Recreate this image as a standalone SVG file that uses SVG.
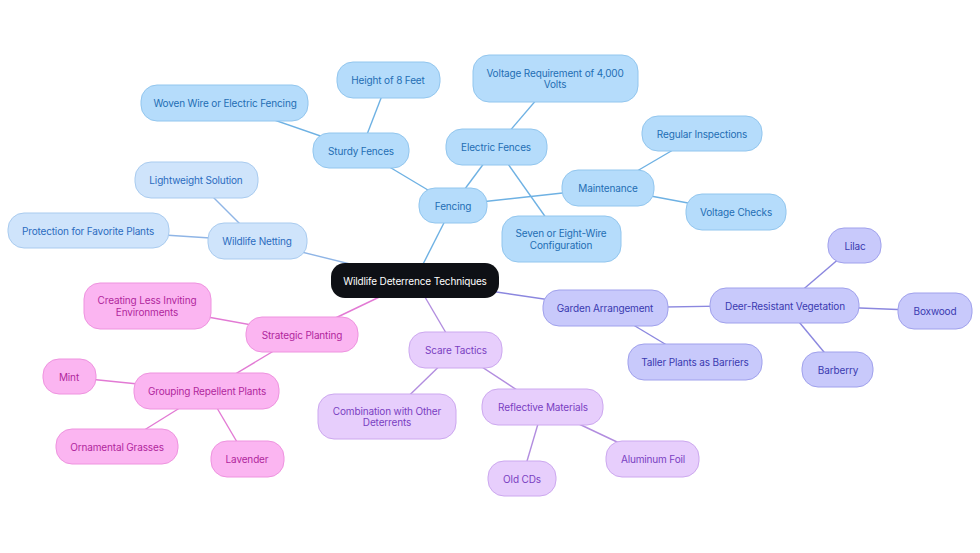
<svg xmlns="http://www.w3.org/2000/svg" width="980" height="553" viewBox="0 0 980 553">
<style>
text{font-family:Inter,"Noto Sans","Liberation Sans",sans-serif;font-size:10px;letter-spacing:-0.15px;text-anchor:middle;dominant-baseline:central}
.e line{stroke-width:1.4;fill:none}
.fb rect{fill:#b5dcfb;stroke:#92c6ee;stroke-width:1}
.fb text{fill:#1f6eb4}
.nb rect{fill:#cfe4fb;stroke:#a9cbef;stroke-width:1}
.nb text{fill:#2b6cc0}
.gb rect{fill:#c8c9fb;stroke:#a0a1ec;stroke-width:1}
.gb text{fill:#3a3ab0}
.pb rect{fill:#fbb5f1;stroke:#ee93df;stroke-width:1}
.pb text{fill:#b1279d}
.sb rect{fill:#e7cefc;stroke:#cca8ef;stroke-width:1}
.sb text{fill:#7a3fc2}
.lf{stroke:#6eb1e3}.ln{stroke:#8fb5e6}.lg{stroke:#8b87df}.lp{stroke:#e27ad4}.ls{stroke:#b28ddf}
</style>
<rect width="980" height="553" fill="#ffffff"/>
<g id="connectors" class="e">
<line class="lf" x1="415" y1="280" x2="453" y2="205"/>
<line class="lf" x1="453" y1="205" x2="361" y2="150"/>
<line class="lf" x1="361" y1="150" x2="388" y2="80"/>
<line class="lf" x1="361" y1="150" x2="225" y2="103"/>
<line class="lf" x1="453" y1="205" x2="496" y2="147"/>
<line class="lf" x1="496" y1="147" x2="555" y2="78"/>
<line class="lf" x1="496" y1="147" x2="561" y2="239"/>
<line class="lf" x1="453" y1="205" x2="608" y2="188"/>
<line class="lf" x1="608" y1="188" x2="702" y2="133"/>
<line class="lf" x1="608" y1="188" x2="736" y2="212"/>
<line class="ln" x1="415" y1="280" x2="257" y2="241"/>
<line class="ln" x1="257" y1="241" x2="196" y2="180"/>
<line class="ln" x1="257" y1="241" x2="88" y2="230"/>
<line class="lg" x1="415" y1="280" x2="605" y2="308"/>
<line class="lg" x1="605" y1="308" x2="785" y2="305"/>
<line class="lg" x1="605" y1="308" x2="695" y2="362"/>
<line class="lg" x1="785" y1="305" x2="855" y2="245"/>
<line class="lg" x1="785" y1="305" x2="935" y2="311"/>
<line class="lg" x1="785" y1="305" x2="838" y2="369"/>
<line class="lp" x1="415" y1="280" x2="302" y2="334"/>
<line class="lp" x1="302" y1="334" x2="147" y2="306"/>
<line class="lp" x1="302" y1="334" x2="207" y2="391"/>
<line class="lp" x1="207" y1="391" x2="69" y2="377"/>
<line class="lp" x1="207" y1="391" x2="117" y2="447"/>
<line class="lp" x1="207" y1="391" x2="247" y2="459"/>
<line class="ls" x1="415" y1="280" x2="456" y2="350"/>
<line class="ls" x1="456" y1="350" x2="387" y2="417"/>
<line class="ls" x1="456" y1="350" x2="543" y2="407"/>
<line class="ls" x1="543" y1="407" x2="522" y2="478"/>
<line class="ls" x1="543" y1="407" x2="653" y2="459"/>
</g>
<g id="root"><rect x="331" y="263" width="168" height="35" rx="14" fill="#0e1015"/><text x="415" y="280.5" fill="#ffffff">Wildlife Deterrence Techniques</text></g>
<g id="fencing" class="fb"><rect x="419" y="188" width="68" height="35" rx="16"/><text x="453" y="205.5">Fencing</text></g>
<g id="sturdy" class="fb"><rect x="313" y="133" width="96" height="35" rx="16"/><text x="361" y="150.5">Sturdy Fences</text></g>
<g id="height" class="fb"><rect x="337" y="62" width="103" height="36" rx="16"/><text x="388" y="80">Height of 8 Feet</text></g>
<g id="woven" class="fb"><rect x="141" y="85" width="167" height="36" rx="16"/><text x="225" y="103">Woven Wire or Electric Fencing</text></g>
<g id="electric" class="fb"><rect x="446" y="129" width="101" height="36" rx="16"/><text x="496" y="147">Electric Fences</text></g>
<g id="voltreq" class="fb"><rect x="473" y="55" width="165" height="47" rx="16"/><text x="555" y="72.5">Voltage Requirement of 4,000</text><text x="555" y="84">Volts</text></g>
<g id="seven" class="fb"><rect x="502" y="216" width="119" height="46" rx="16"/><text x="561" y="233">Seven or Eight-Wire</text><text x="561" y="244.5">Configuration</text></g>
<g id="maint" class="fb"><rect x="562" y="170" width="92" height="36" rx="16"/><text x="608" y="188">Maintenance</text></g>
<g id="regular" class="fb"><rect x="642" y="116" width="120" height="35" rx="16"/><text x="702" y="133.5">Regular Inspections</text></g>
<g id="voltchk" class="fb"><rect x="686" y="194" width="100" height="36" rx="16"/><text x="736" y="212">Voltage Checks</text></g>
<g id="netting" class="nb"><rect x="208" y="223" width="99" height="36" rx="16"/><text x="257" y="241">Wildlife Netting</text></g>
<g id="light" class="nb"><rect x="135" y="162" width="123" height="36" rx="16"/><text x="196" y="180">Lightweight Solution</text></g>
<g id="protect" class="nb"><rect x="8" y="213" width="161" height="35" rx="16"/><text x="88" y="230.5">Protection for Favorite Plants</text></g>
<g id="garden" class="gb"><rect x="543" y="290" width="125" height="36" rx="16"/><text x="605" y="308">Garden Arrangement</text></g>
<g id="deer" class="gb"><rect x="710" y="288" width="149" height="35" rx="16"/><text x="785" y="305.5">Deer-Resistant Vegetation</text></g>
<g id="lilac" class="gb"><rect x="828" y="228" width="53" height="35" rx="16"/><text x="855" y="245.5">Lilac</text></g>
<g id="boxwood" class="gb"><rect x="898" y="293" width="74" height="36" rx="16"/><text x="935" y="311">Boxwood</text></g>
<g id="barberry" class="gb"><rect x="802" y="352" width="71" height="35" rx="16"/><text x="838" y="369.5">Barberry</text></g>
<g id="taller" class="gb"><rect x="628" y="344" width="134" height="36" rx="16"/><text x="695" y="362">Taller Plants as Barriers</text></g>
<g id="strategic" class="pb"><rect x="246" y="317" width="112" height="35" rx="16"/><text x="302" y="334.5">Strategic Planting</text></g>
<g id="creating" class="pb"><rect x="84" y="283" width="127" height="46" rx="16"/><text x="147" y="300">Creating Less Inviting</text><text x="147" y="311.5">Environments</text></g>
<g id="grouping" class="pb"><rect x="134" y="373" width="145" height="36" rx="16"/><text x="207" y="391">Grouping Repellent Plants</text></g>
<g id="mint" class="pb"><rect x="43" y="359" width="53" height="35" rx="16"/><text x="69" y="376.5">Mint</text></g>
<g id="ornamental" class="pb"><rect x="56" y="429" width="122" height="35" rx="16"/><text x="117" y="446.5">Ornamental Grasses</text></g>
<g id="lavender" class="pb"><rect x="211" y="441" width="73" height="36" rx="16"/><text x="247" y="459">Lavender</text></g>
<g id="scare" class="sb"><rect x="409" y="332" width="93" height="36" rx="16"/><text x="456" y="350">Scare Tactics</text></g>
<g id="combo" class="sb"><rect x="318" y="394" width="138" height="45" rx="16"/><text x="387" y="410.5">Combination with Other</text><text x="387" y="422">Deterrents</text></g>
<g id="reflective" class="sb"><rect x="482" y="389" width="121" height="36" rx="16"/><text x="543" y="407">Reflective Materials</text></g>
<g id="oldcds" class="sb"><rect x="488" y="461" width="68" height="35" rx="16"/><text x="522" y="478.5">Old CDs</text></g>
<g id="foil" class="sb"><rect x="606" y="441" width="93" height="36" rx="16"/><text x="653" y="459">Aluminum Foil</text></g>
</svg>
